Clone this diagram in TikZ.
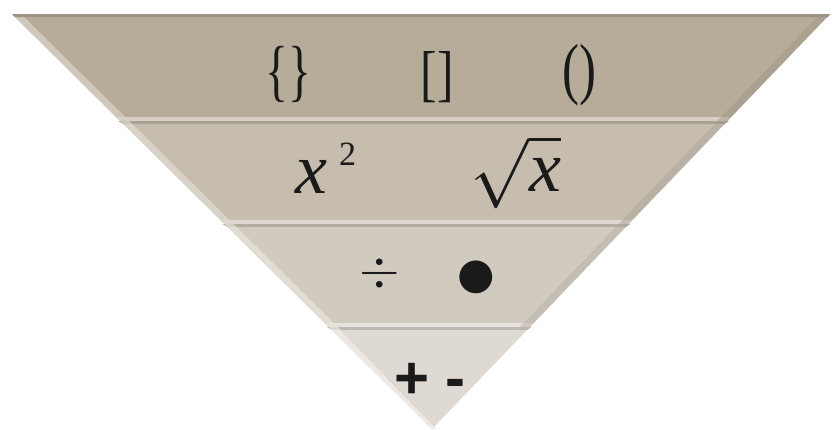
\RequirePackage{fix-cm}
\documentclass[tikz,border=0pt]{standalone}
\usepackage{fontspec}
\usepackage{amsmath}
\newfontfamily\tnr{Liberation Serif}
\newfontfamily\arl{Liberation Sans}
\newfontfamily\djv{DejaVu Sans}
\definecolor{bandA}{HTML}{B7AC9A}
\definecolor{bandB}{HTML}{C6BDAF}
\definecolor{bandC}{HTML}{D1CABF}
\definecolor{bandD}{HTML}{DEDAD3}
\definecolor{hlA}{HTML}{D6CFC2}
\definecolor{hlB}{HTML}{DED8CE}
\definecolor{hlC}{HTML}{E6E1DA}
\definecolor{hlD}{HTML}{EEEBE7}
\definecolor{ink}{HTML}{1A1A1A}
\newcommand\myband[5]{%
  \pgfmathsetmacro\Lt{12+(#1-14)*1.012}%
  \pgfmathsetmacro\Lb{12+(#2-14)*1.012}%
  \pgfmathsetmacro\Rt{830-(#1-14)*0.959}%
  \pgfmathsetmacro\Rb{830-(#2-14)*0.959}%
  \pgfmathsetmacro\Lh{12+(#2-7-14)*1.012}%
  \pgfmathsetmacro\Rh{830-(#2-7-14)*0.959}%
  \fill[#3] (\Lt,#1) -- (\Rt,#1) -- (\Rb,#2) -- (\Lb,#2) -- cycle;
  \fill[#4] (\Lh,#2-7) -- (\Rh,#2-7) -- (\Rb,#2) -- (\Lb,#2) -- cycle;
  \fill[#5!85!black] (\Lh+2,#2-3) -- (\Rh-2,#2-3) -- (\Rb,#2) -- (\Lb,#2) -- cycle;
  \fill[#4,opacity=0.8] (\Lt,#1) -- (\Lt+9,#1) -- (\Lb+9,#2) -- (\Lb,#2) -- cycle;
  \fill[#3!88!black,opacity=0.5] (\Rt,#1) -- (\Rt-10,#1) -- (\Rb-10,#2) -- (\Rb,#2) -- cycle;
}
\tikzset{sym/.style={inner sep=0pt, text=ink, anchor=center}}
\begin{document}
\begin{tikzpicture}[x=1pt,y=-1pt]
\useasboundingbox (0,0) rectangle (836,429);
\fill[white] (0,0) rectangle (836,429);
\myband{14}{124}{bandA}{hlA}{bandB}
\fill[bandA!85!black] (12,14) -- (830,14) -- (828,17) -- (15,17) -- cycle;
\myband{124}{227}{bandB}{hlB}{bandC}
\myband{227}{330}{bandC}{hlC}{bandD}
\fill[bandD] (331.8,330) -- (527,330) -- (432,429) -- cycle;
\fill[hlD,opacity=0.9] (331.8,330) -- (340,330) -- (436,429) -- (432,429) -- cycle;
% top band
\node[sym] (br) at (288,74) {\scalebox{0.7}[1]{\fontsize{68}{68}\selectfont\tnr\{\}}};
\node[sym] (sq) at (437,77) {\scalebox{0.8}[1]{\fontsize{62}{62}\selectfont\tnr[]}};
\node[sym] (pa) at (579,75) {\scalebox{0.75}[1]{\fontsize{68}{68}\selectfont\tnr()}};
% second band
\node[sym,anchor=base west] (xs) at (295,193) {\fontsize{72}{72}\selectfont\tnr\itshape x\hspace{12pt}\raisebox{28pt}{\fontsize{34}{34}\selectfont\upshape 2}};
\node[sym] (rt) at (516,172) {\fontsize{70}{70}\selectfont$\sqrt{\text{\fontsize{72}{72}\selectfont\tnr\itshape x}}$};
% third band
\node[sym] (dv) at (380,273) {\fontsize{52}{52}\selectfont$\div$};
\node[sym] (bu) at (476,277) {\fontsize{43}{43}\selectfont\djv ●};
% bottom band
\node[sym] (pm) at (430,381) {\fontsize{60}{60}\selectfont\arl\bfseries + -};
\end{tikzpicture}
\end{document}
